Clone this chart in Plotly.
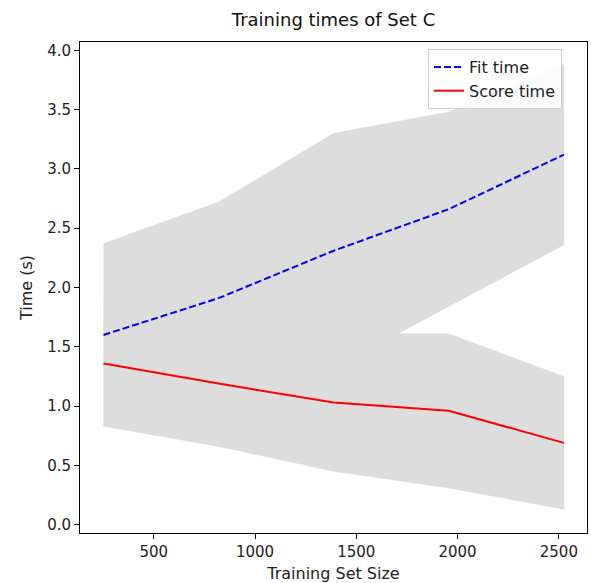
import plotly.graph_objects as go

train_sizes = [252, 820, 1388, 1956, 2525]
fit_mean = [1.60, 1.91, 2.31, 2.66, 3.12]
fit_std = [0.77, 0.81, 0.99, 0.82, 0.76]
score_mean = [1.36, 1.19, 1.03, 0.96, 0.69]
score_std = [0.53, 0.53, 0.58, 0.65, 0.56]

band_color = "#DDDDDD"

fig = go.Figure()

def band(mean, std):
    up = [m + s for m, s in zip(mean, std)]
    lo = [m - s for m, s in zip(mean, std)]
    return up, lo

for mean, std in [(fit_mean, fit_std), (score_mean, score_std)]:
    up, lo = band(mean, std)
    fig.add_trace(go.Scatter(
        x=train_sizes + train_sizes[::-1], y=up + lo[::-1],
        fill="toself", fillcolor=band_color, line=dict(width=0.5, color=band_color),
        mode="lines", showlegend=False, hoverinfo="skip"))

fig.add_trace(go.Scatter(x=train_sizes, y=fit_mean, mode="lines", name="Fit time",
                         line=dict(color="blue", width=2, dash="7px,3px")))
fig.add_trace(go.Scatter(x=train_sizes, y=score_mean, mode="lines", name="Score time",
                         line=dict(color="red", width=2)))

font = "DejaVu Sans"
fig.update_layout(
    width=591, height=583,
    margin=dict(l=80, r=4, t=42, b=50, autoexpand=False),
    paper_bgcolor="white", plot_bgcolor="white",
    font=dict(family=font, size=15, color="#222"),
    title=dict(text="Training times of Set C", xref="paper", x=0.5, xanchor="center",
               y=1 - 20 / 583, yanchor="middle", font=dict(size=18, color="#111")),
    legend=dict(x=(428 - 80) / 507, y=1 - (49 - 42) / 491, xanchor="left", yanchor="top",
                bgcolor="rgba(255,255,255,0.85)", bordercolor="#d0d0d0", borderwidth=1,
                font=dict(size=16), tracegroupgap=0),
    showlegend=True,
)
fig.update_xaxes(range=[136, 2639], tickvals=[500, 1000, 1500, 2000, 2500],
                 showgrid=False, zeroline=False, showline=True, linecolor="black",
                 linewidth=1, mirror=True, ticks="outside", ticklen=5, tickcolor="black",
                 automargin=False, tickfont=dict(size=15),
                 title=dict(text="Training Set Size", standoff=8, font=dict(size=16)))
fig.update_yaxes(range=[-0.07, 4.07], tickvals=[0, 0.5, 1, 1.5, 2, 2.5, 3, 3.5, 4],
                 tickformat=".1f",
                 showgrid=False, zeroline=False, showline=True, linecolor="black",
                 linewidth=1, mirror=True, ticks="outside", ticklen=5, tickcolor="black",
                 automargin=False, tickfont=dict(size=15),
                 title=dict(text="Time (s)", standoff=10, font=dict(size=16)))

fig.write_html("out.html", config={"displayModeBar": False},
               post_script="document.body.style.margin='0';")
